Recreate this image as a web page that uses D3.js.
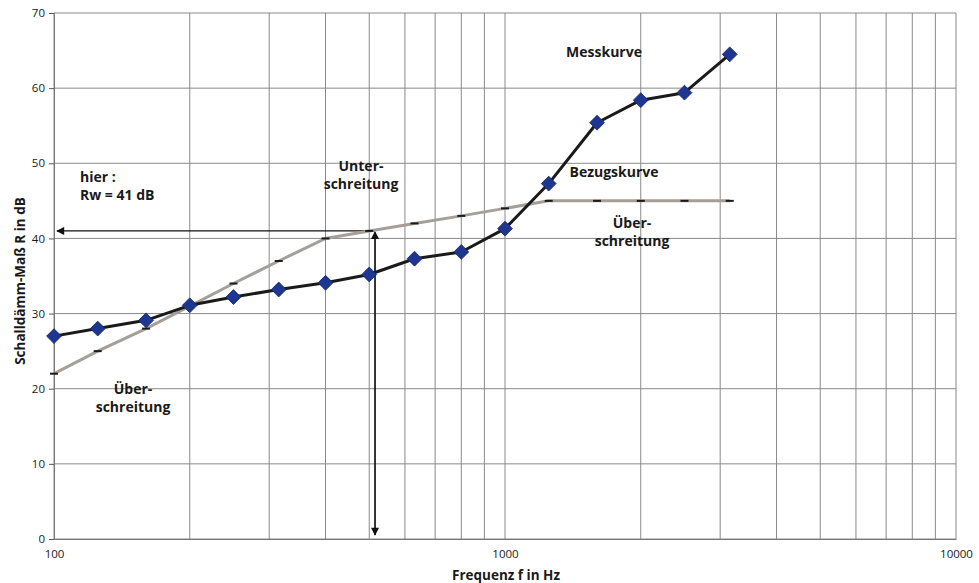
<!DOCTYPE html>
<html><head><meta charset="utf-8">
<script src="https://cdn.jsdelivr.net/npm/d3@7"></script>
<style>
html,body{margin:0;padding:0;background:#fff;}
svg{display:block;}
text{font-family:"Open Sans","DejaVu Sans",sans-serif;fill:#1a1a1a;}
</style></head><body>
<svg id="c" width="979" height="583"></svg>
<script>
// ---- data ----
const frequencies = [100,125,160,200,250,315,400,500,630,800,1000,1250,1600,2000,2500,3150];
const messkurve   = [27,28,29.1,31.1,32.2,33.2,34.1,35.2,37.3,38.2,41.3,47.3,55.4,58.4,59.4,64.5];
const bezugskurve = [22,25,28,31,34,37,40,41,42,43,44,45,45,45,45,45];
const yTicks = [0,10,20,30,40,50,60,70];
const xLabelTicks = [100,1000,10000];
const rwValue = 41;
const rwFreq = 515;
const xDomain = [100,10000];
const yDomain = [0,70];

// ---- layout ----
const svg = d3.select("#c");
const L = 54, R = 956, T = 13, B = 539;
const x = d3.scaleLog().domain(xDomain).range([L,R]);
const y = d3.scaleLinear().domain(yDomain).range([B,T]);

// grid lines
const minor = [];
for (let d = 100; d < 10000; d *= 10) for (let k = 1; k <= 9; k++) minor.push(d*k);
minor.push(10000);
svg.append("g").selectAll("line").data(minor).join("line")
  .attr("x1", d=>x(d)).attr("x2", d=>x(d)).attr("y1", T).attr("y2", B)
  .attr("stroke", "#8a8a8a").attr("stroke-width", 1);
svg.append("g").selectAll("line").data(yTicks).join("line")
  .attr("x1", L).attr("x2", R).attr("y1", d=>y(d)).attr("y2", d=>y(d))
  .attr("stroke", "#8a8a8a").attr("stroke-width", 1);

// y axis
const yAxis = d3.axisLeft(y).tickValues(yTicks).tickSize(5).tickPadding(4);
const gy = svg.append("g").attr("transform", `translate(${L},0)`).call(yAxis);
gy.select(".domain").attr("stroke", "#777");
gy.selectAll(".tick line").attr("stroke", "#555");
gy.selectAll("text").attr("font-size", 11.5).attr("fill", "#1a1a1a")
  .attr("font-family", '"Open Sans",sans-serif');

// x axis labels
const xAxis = d3.axisBottom(x).tickValues(xLabelTicks).tickFormat(d3.format("d")).tickSize(0).tickPadding(11);
const gx = svg.append("g").attr("transform", `translate(0,${B})`).call(xAxis);
gx.select(".domain").attr("stroke", "#777");
gx.selectAll("text").attr("font-size", 11.5).attr("fill", "#1a1a1a")
  .attr("font-family", '"Open Sans",sans-serif');

// axis titles
svg.append("text").attr("x", 506).attr("y", 580).attr("text-anchor", "middle")
  .attr("font-size", 13.5).attr("font-weight", "bold").text("Frequenz f in Hz");
svg.append("text").attr("transform", "translate(25,281) rotate(-90)").attr("text-anchor", "middle")
  .attr("font-size", 13.5).attr("font-weight", "bold").text("Schalldämm-Maß R in dB");

// arrows
const defs = svg.append("defs");
defs.append("marker").attr("id", "ah").attr("viewBox", "0 0 10 10")
  .attr("refX", 9).attr("refY", 5).attr("markerWidth", 10).attr("markerHeight", 8)
  .attr("markerUnits", "userSpaceOnUse").attr("orient", "auto")
  .append("path").attr("d", "M0,0 L10,5 L0,10 Z").attr("fill", "#111");

svg.append("line").attr("x1", x(rwFreq)).attr("y1", y(rwValue)).attr("x2", x(100)+3).attr("y2", y(rwValue))
  .attr("stroke", "#111").attr("stroke-width", 1.2).attr("marker-end", "url(#ah)");
svg.append("line").attr("x1", x(rwFreq)).attr("y1", y(0)-4).attr("x2", x(rwFreq)).attr("y2", y(rwValue)+1)
  .attr("stroke", "#111").attr("stroke-width", 1.2).attr("marker-end", "url(#ah)");
svg.append("line").attr("x1", x(rwFreq)).attr("y1", y(rwValue)+8).attr("x2", x(rwFreq)).attr("y2", y(0)-4)
  .attr("stroke", "#111").attr("stroke-width", 1.2).attr("marker-end", "url(#ah)");

// reference curve
const refData = frequencies.map((f,i)=>({f, v: bezugskurve[i]}));
const line = d3.line().x(d=>x(d.f)).y(d=>y(d.v));
svg.append("path").datum(refData).attr("d", line).attr("fill", "none")
  .attr("stroke", "#a69f99").attr("stroke-width", 3);
svg.append("g").selectAll("line").data(refData).join("line")
  .attr("x1", d=>x(d.f)-4).attr("x2", d=>x(d.f)+4).attr("y1", d=>y(d.v)).attr("y2", d=>y(d.v))
  .attr("stroke", "#1a1a1a").attr("stroke-width", 2);

// measured curve
const mData = frequencies.map((f,i)=>({f, v: messkurve[i]}));
svg.append("path").datum(mData).attr("d", line).attr("fill", "none")
  .attr("stroke", "#1a1a1a").attr("stroke-width", 3).attr("stroke-linejoin", "round");
svg.append("g").selectAll("path").data(mData).join("path")
  .attr("d", d3.symbol(d3.symbolSquare, 110))
  .attr("transform", d=>`translate(${x(d.f)},${y(d.v)}) rotate(45)`)
  .attr("fill", "#1f3690").attr("stroke", "#17286e").attr("stroke-width", 0.8);

// annotations
const ann = [
  {t:"hier :", x:80, y:182, a:"start"},
  {t:"Rw = 41 dB", x:80, y:200, a:"start"},
  {t:"Unter-", x:361, y:171, a:"middle"},
  {t:"schreitung", x:361, y:189, a:"middle"},
  {t:"Über-", x:133, y:394, a:"middle"},
  {t:"schreitung", x:133, y:412, a:"middle"},
  {t:"Messkurve", x:604, y:57, a:"middle"},
  {t:"Bezugskurve", x:614, y:177, a:"middle"},
  {t:"Über-", x:632, y:228, a:"middle"},
  {t:"schreitung", x:632, y:246, a:"middle"}
];
svg.append("g").selectAll("text").data(ann).join("text")
  .attr("x", d=>d.x).attr("y", d=>d.y).attr("text-anchor", d=>d.a)
  .attr("font-size", 14).attr("font-weight", "bold").text(d=>d.t);
</script>
</body></html>
